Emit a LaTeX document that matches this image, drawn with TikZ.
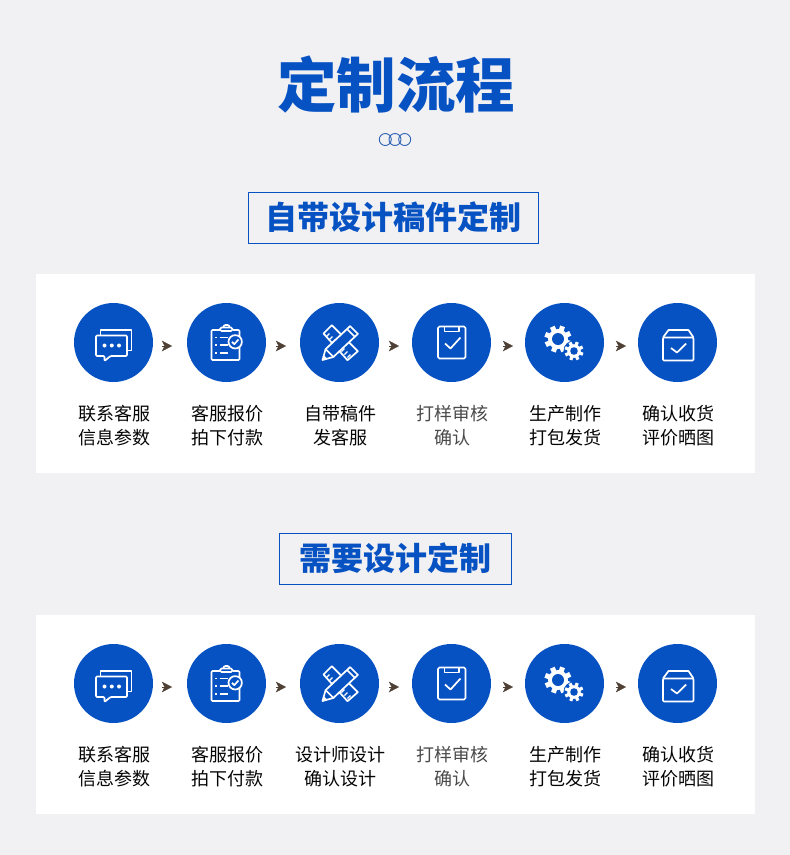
\documentclass[tikz,border=0pt]{standalone}
\usepackage{fontspec}
\setmainfont{Noto Sans CJK SC}
\usepackage{xcolor}
\usetikzlibrary{arrows.meta, positioning, calc}
\definecolor{pageGrey}{HTML}{F1F1F3}
\definecolor{flowBlue}{HTML}{0752C3}
\definecolor{ringBlue}{HTML}{2F62B5}
\definecolor{tipBrown}{HTML}{4E4034}
\definecolor{inkOne}{HTML}{050505}
\definecolor{inkTwo}{HTML}{4A4A4A}
\tikzset{
  panel/.style={fill=white, draw=none},
  maintitle/.style={font=\fontsize{59.5}{60}\selectfont\bfseries, text=flowBlue, inner sep=0pt},
  subtitle/.style={draw=flowBlue, line width=1pt, font=\fontsize{32}{33}\selectfont\bfseries, text=flowBlue,
    minimum height=51pt, inner sep=0pt},
  disc/.style={circle, fill=flowBlue, minimum size=79pt, inner sep=0pt},
  steplabel/.style={font=\fontsize{18}{24}\selectfont, text=inkOne, align=center, inner sep=0pt},
  arr/.style={-{Stealth[length=10pt, width=10.5pt, inset=2.5pt]}, draw=tipBrown, line width=0.3pt},
  ico/.style={draw=white, line width=1.7pt, line join=round},
  iconchat/.pic={
    \draw[ico] (-13,-7) -- (-13,-12.5) -- (18,-12.5) -- (18,8) -- (13.5,8);
    \draw[ico, rounded corners=1pt] (-17.5,-7) -- (13.5,-7) -- (13.5,13.5) -- (-3,13.5) -- (-9,18.5) -- (-9,13.5) -- (-17.5,13.5) -- cycle;
    \foreach \d in {-9,-1.7,5.5} \fill[white] (\d,3) circle (2);
  },
  iconclip/.pic={
    \draw[ico, rounded corners=1pt] (-6.5,-12.5) -- (-15,-12.5) -- (-15,17.5) -- (13,17.5) -- (13,-12.5) -- (6,-12.5);
    \draw[ico, rounded corners=1.5pt] (-6.5,-11.5) rectangle (6,-15);
    \draw[ico, rounded corners=2pt] (-3,-15) -- (-3,-17.5) -- (3,-17.5) -- (3,-15);
    \foreach \d in {-5,2.7,10.3} {
      \draw[white, line width=1.7pt] (-11.5,\d) -- (-9.5,\d) (-7,\d) -- (1,\d);
    }
    \draw[ico, fill=flowBlue] (8.7,-0.7) circle (6.7);
    \draw[ico] (5.5,-0.7) -- (7.8,1.6) -- (12,-3);
  },
  iconruler/.pic={
    \draw[ico] (-16,-9) -- (-7.7,-17.3) -- (18.3,8.7) -- (8,17.7) -- cycle;
    \foreach \t in {3,6,9,18,21,24} {
      \draw[white, line width=1.3pt] ($(-16,-9)+(\t,\t)$) -- ++(3,-3);
    }
    \draw[ico, fill=flowBlue] (-17,17.5) -- (-13.9,6.6) -- (10.6,-16.4) -- (18.4,-8.6) -- (-6.1,14.4) -- cycle;
    \draw[ico] (7.6,-13.4) -- (15.4,-5.6) (-13.9,6.6) -- (-6.1,14.4);
    \fill[white] (-17,17.5) -- (-15.8,12.5) -- (-12,16.3) -- cycle;
  },
  iconboard/.pic={
    \draw[ico, rounded corners=1.5pt] (-13.5,-16) rectangle (14,16);
    \draw[ico] (-7,-16) -- (-7,-11) -- (7.5,-11) -- (7.5,-16);
    \draw[ico] (-6.5,1) -- (-1,6) -- (9,-5);
  },
  icongears/.pic={
    \foreach \a in {0,45,...,315} {
      \draw[white, line width=5pt] ($(-6.5,-3.5)+(\a+20:8)$) -- ($(-6.5,-3.5)+(\a+20:13.5)$);
    }
    \fill[white] (-6.5,-3.5) circle (10);
    \fill[flowBlue] (-6.5,-3.5) circle (6);
    \fill[flowBlue] (9.5,8.5) circle (10.5);
    \foreach \a in {0,45,...,315} {
      \draw[white, line width=3.2pt] ($(9.5,8.5)+(\a+20:5)$) -- ($(9.5,8.5)+(\a+20:9.5)$);
    }
    \fill[white] (9.5,8.5) circle (6.8);
    \fill[flowBlue] (9.5,8.5) circle (3.8);
  },
  iconbox/.pic={
    \draw[ico, rounded corners=1pt] (-14.5,-5) rectangle (16,18);
    \draw[ico] (-14.5,-5) -- (-9,-12.5) -- (11,-12.5) -- (16,-5);
    \draw[ico] (-6.5,5.5) -- (-0.5,10) -- (8.7,1);
  },
}

\begin{document}
\begin{tikzpicture}[x=1pt, y=-1pt]
  \useasboundingbox[fill=pageGrey] (0,0) rectangle (790,855);
  % ---- header
  \node[maintitle] (head) at (396,85) {定制流程};
  \foreach \x/\n in {385.3/r1, 395/r2, 404.7/r3} {
    \node[circle, draw=ringBlue, line width=0.9pt, minimum size=12pt, inner sep=0pt] (\n) at (\x,139.5) {};
  }
  % ---- the two rows
  \node[subtitle, minimum width=290pt] (subA) at (393.5,217.5) {自带设计稿件定制};
  \node[subtitle, minimum width=232pt] (subB) at (395.5,558.5) {需要设计定制};
  \foreach \r/\top/\third in {a/0/{自带稿件\\发客服}, b/341/{设计师设计\\确认设计}} {
    \begin{scope}[yshift=-\top pt]
      \fill[panel] (36,274) rectangle (755,473);
      \foreach \i/\x/\ic/\txt/\tone in {
          1/113.5/iconchat/{联系客服\\信息参数}/inkOne,
          2/226.5/iconclip/{客服报价\\拍下付款}/inkOne,
          3/339.5/iconruler/{\third}/inkOne,
          4/451.5/iconboard/{打样审核\\确认}/inkTwo,
          5/564.5/icongears/{生产制作\\打包发货}/inkOne,
          6/677.5/iconbox/{确认收货\\评价晒图}/inkOne} {
        \node[disc] (\r\i) at (\x,342.5) {};
        \pic at (\r\i) {\ic};
        \node[steplabel, text=\tone, below=22.8pt of \r\i, xshift=0.5pt] (\r l\i) {\txt};
      }
      % tips only, they stop well short of the next disc
      \foreach \i/\ax in {1/162, 2/276, 3/389, 4/503, 5/616} {
        \coordinate (\r s\i) at (\ax,346);
        \coordinate (\r e\i) at (\ax+10,346);
        \draw[arr] (\r s\i) -- (\r e\i);
      }
    \end{scope}
  }
\end{tikzpicture}
\end{document}
